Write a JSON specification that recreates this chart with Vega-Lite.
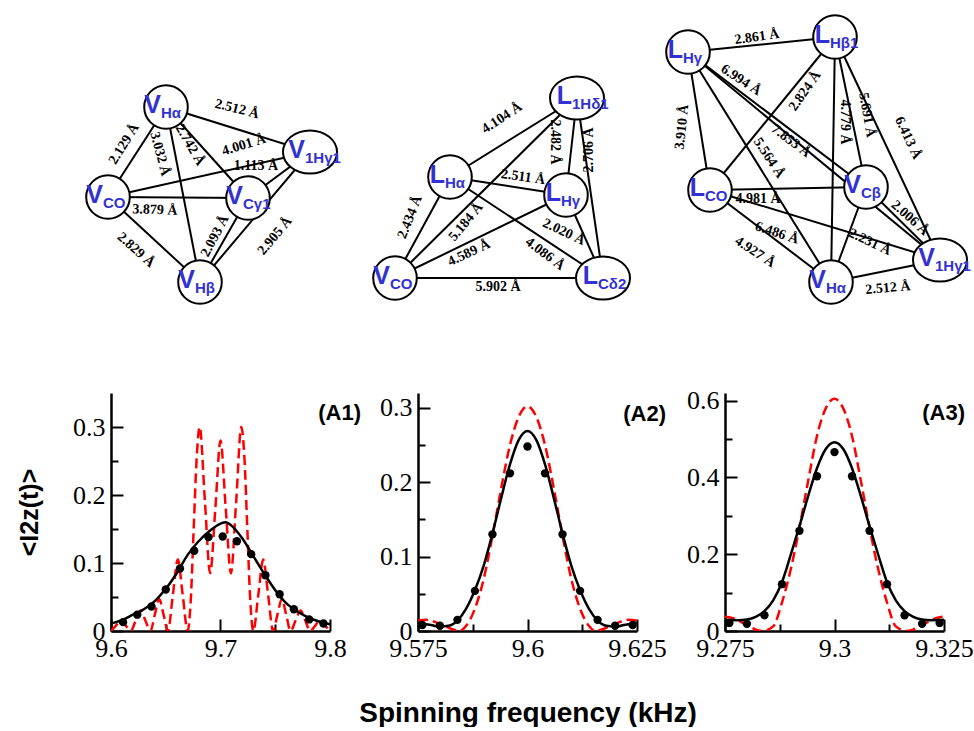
{
  "$schema": "https://vega.github.io/schema/vega-lite/v6.json",
  "background": "white",
  "padding": {"left": 17, "top": 0, "right": 0, "bottom": 0},
  "config": {
    "view": {"stroke": null},
    "axis": {"grid": false, "domainColor": "black", "domainWidth": 2.5, "tickColor": "black", "tickWidth": 2, "labelFont": "Liberation Serif", "labelFontSize": 26, "labelColor": "black", "labelFlush": false, "labelOverlap": false, "labelBound": false, "titleFont": "Liberation Sans", "titleFontWeight": "bold", "titleColor": "black"}
  },
  "datasets": {
    "nodes": [
      {"id": "d1VHa", "x": 168, "y": 107, "main": "V", "sub": "Hα"},
      {"id": "d1VCO", "x": 110, "y": 197, "main": "V", "sub": "CO"},
      {"id": "d1V1Hg1", "x": 312, "y": 152, "main": "V", "sub": "1Hγ1"},
      {"id": "d1VCg1", "x": 250, "y": 198, "main": "V", "sub": "Cγ1"},
      {"id": "d1VHb", "x": 202, "y": 282, "main": "V", "sub": "Hβ"},
      {"id": "d2L1Hd1", "x": 579, "y": 98, "main": "L", "sub": "1Hδ1"},
      {"id": "d2LHa", "x": 452, "y": 177, "main": "L", "sub": "Hα"},
      {"id": "d2LHg", "x": 568, "y": 195, "main": "L", "sub": "Hγ"},
      {"id": "d2VCO", "x": 397, "y": 278, "main": "V", "sub": "CO"},
      {"id": "d2LCd2", "x": 605, "y": 278, "main": "L", "sub": "Cδ2"},
      {"id": "d3LHg", "x": 690, "y": 52, "main": "L", "sub": "Hγ"},
      {"id": "d3LHb1", "x": 837, "y": 37, "main": "L", "sub": "Hβ1"},
      {"id": "d3LCO", "x": 712, "y": 190, "main": "L", "sub": "CO"},
      {"id": "d3VCb", "x": 868, "y": 187, "main": "V", "sub": "Cβ"},
      {"id": "d3V1Hg1", "x": 942, "y": 260, "main": "V", "sub": "1Hγ1"},
      {"id": "d3VHa", "x": 833, "y": 282, "main": "V", "sub": "Hα"}
    ],
    "edges": [
      {"a": "d1VHa", "b": "d1V1Hg1", "label": "2.512 Å", "lx": 239, "ly": 109, "angle": 14},
      {"a": "d1VHa", "b": "d1VCO", "label": "2.129 Å", "lx": 126, "ly": 144, "angle": -58},
      {"a": "d1VHa", "b": "d1VHb", "label": "3.032 Å", "lx": 162, "ly": 154, "angle": 75},
      {"a": "d1VHa", "b": "d1VCg1", "label": "2.742 Å", "lx": 192, "ly": 145, "angle": 60},
      {"a": "d1VCO", "b": "d1V1Hg1", "label": "4.001 Å", "lx": 246, "ly": 145, "angle": -17},
      {"a": "d1VCg1", "b": "d1V1Hg1", "label": "1.113 Å", "lx": 258, "ly": 166, "angle": 0},
      {"a": "d1VCO", "b": "d1VCg1", "label": "3.879 Å", "lx": 157, "ly": 210, "angle": 2},
      {"a": "d1VCO", "b": "d1VHb", "label": "2.829 Å", "lx": 138, "ly": 250, "angle": 42},
      {"a": "d1VCg1", "b": "d1VHb", "label": "2.093 Å", "lx": 217, "ly": 236, "angle": -62},
      {"a": "d1V1Hg1", "b": "d1VHb", "label": "2.905 Å", "lx": 277, "ly": 236, "angle": -50},
      {"a": "d2LHa", "b": "d2L1Hd1", "label": "4.104 Å", "lx": 504, "ly": 118, "angle": -33},
      {"a": "d2VCO", "b": "d2L1Hd1", "label": "5.184 Å", "lx": 468, "ly": 222, "angle": -50},
      {"a": "d2L1Hd1", "b": "d2LHg", "label": "2.482 Å", "lx": 557, "ly": 142, "angle": 90},
      {"a": "d2L1Hd1", "b": "d2LCd2", "label": "2.706 Å", "lx": 591, "ly": 150, "angle": -90},
      {"a": "d2LHa", "b": "d2LHg", "label": "2.511 Å", "lx": 525, "ly": 177, "angle": 8},
      {"a": "d2VCO", "b": "d2LHa", "label": "2.434 Å", "lx": 412, "ly": 217, "angle": -68},
      {"a": "d2VCO", "b": "d2LHg", "label": "4.589 Å", "lx": 471, "ly": 253, "angle": -25},
      {"a": "d2LHa", "b": "d2LCd2", "label": "4.086 Å", "lx": 547, "ly": 254, "angle": 37},
      {"a": "d2LHg", "b": "d2LCd2", "label": "2.020 Å", "lx": 566, "ly": 232, "angle": 25},
      {"a": "d2VCO", "b": "d2LCd2", "label": "5.902 Å", "lx": 500, "ly": 287, "angle": 0},
      {"a": "d3LHg", "b": "d3LHb1", "label": "2.861 Å", "lx": 759, "ly": 37, "angle": -8},
      {"a": "d3LHg", "b": "d3VCb", "label": "6.994 Å", "lx": 743, "ly": 80, "angle": 33},
      {"a": "d3LHg", "b": "d3V1Hg1", "label": "7.853 Å", "lx": 793, "ly": 141, "angle": 37},
      {"a": "d3LHg", "b": "d3VHa", "label": "5.564 Å", "lx": 771, "ly": 158, "angle": 57},
      {"a": "d3LHg", "b": "d3LCO", "label": "3.910 Å", "lx": 684, "ly": 127, "angle": -84},
      {"a": "d3LHb1", "b": "d3LCO", "label": "2.824 Å", "lx": 807, "ly": 91, "angle": -55},
      {"a": "d3LHb1", "b": "d3VHa", "label": "4.779 Å", "lx": 847, "ly": 122, "angle": 90},
      {"a": "d3LHb1", "b": "d3VCb", "label": "5.691 Å", "lx": 869, "ly": 115, "angle": 80},
      {"a": "d3LHb1", "b": "d3V1Hg1", "label": "6.413 Å", "lx": 910, "ly": 138, "angle": 65},
      {"a": "d3LCO", "b": "d3VCb", "label": "4.981 Å", "lx": 760, "ly": 199, "angle": 0},
      {"a": "d3LCO", "b": "d3V1Hg1", "label": "6.486 Å", "lx": 779, "ly": 233, "angle": 18},
      {"a": "d3LCO", "b": "d3VHa", "label": "4.927 Å", "lx": 757, "ly": 252, "angle": 33},
      {"a": "d3VCb", "b": "d3V1Hg1", "label": "2.006 Å", "lx": 912, "ly": 218, "angle": 42},
      {"a": "d3VCb", "b": "d3VHa", "label": "2.231 Å", "lx": 872, "ly": 242, "angle": 25},
      {"a": "d3VHa", "b": "d3V1Hg1", "label": "2.512 Å", "lx": 890, "ly": 288, "angle": -5}
    ],
    "a1": [
      {"s": "model1", "f": 9.600, "v": 0.000}, {"s": "model1", "f": 9.6045, "v": 0.008}, {"s": "model1", "f": 9.609, "v": 0.016}, {"s": "model1", "f": 9.6135, "v": 0.008},
      {"s": "model1", "f": 9.618, "v": 0.000}, {"s": "model1", "f": 9.6225, "v": 0.015}, {"s": "model1", "f": 9.627, "v": 0.030}, {"s": "model1", "f": 9.6315, "v": 0.015},
      {"s": "model1", "f": 9.636, "v": 0.000}, {"s": "model1", "f": 9.640, "v": 0.024}, {"s": "model1", "f": 9.644, "v": 0.047}, {"s": "model1", "f": 9.648, "v": 0.024},
      {"s": "model1", "f": 9.652, "v": 0.000}, {"s": "model1", "f": 9.6565, "v": 0.053}, {"s": "model1", "f": 9.661, "v": 0.105}, {"s": "model1", "f": 9.6655, "v": 0.053},
      {"s": "model1", "f": 9.670, "v": 0.000}, {"s": "model1", "f": 9.6728, "v": 0.044}, {"s": "model1", "f": 9.6755, "v": 0.150}, {"s": "model1", "f": 9.6783, "v": 0.256},
      {"s": "model1", "f": 9.681, "v": 0.300}, {"s": "model1", "f": 9.6858, "v": 0.190}, {"s": "model1", "f": 9.6905, "v": 0.085}, {"s": "model1", "f": 9.6953, "v": 0.180},
      {"s": "model1", "f": 9.700, "v": 0.280}, {"s": "model1", "f": 9.7048, "v": 0.180}, {"s": "model1", "f": 9.7095, "v": 0.085}, {"s": "model1", "f": 9.7143, "v": 0.190},
      {"s": "model1", "f": 9.719, "v": 0.300}, {"s": "model1", "f": 9.7218, "v": 0.256}, {"s": "model1", "f": 9.7245, "v": 0.150}, {"s": "model1", "f": 9.7272, "v": 0.044},
      {"s": "model1", "f": 9.730, "v": 0.000}, {"s": "model1", "f": 9.7345, "v": 0.053}, {"s": "model1", "f": 9.739, "v": 0.105}, {"s": "model1", "f": 9.7435, "v": 0.053},
      {"s": "model1", "f": 9.748, "v": 0.000}, {"s": "model1", "f": 9.752, "v": 0.024}, {"s": "model1", "f": 9.756, "v": 0.047}, {"s": "model1", "f": 9.760, "v": 0.024},
      {"s": "model1", "f": 9.764, "v": 0.000}, {"s": "model1", "f": 9.7685, "v": 0.015}, {"s": "model1", "f": 9.773, "v": 0.030}, {"s": "model1", "f": 9.7775, "v": 0.015},
      {"s": "model1", "f": 9.782, "v": 0.000}, {"s": "model1", "f": 9.7865, "v": 0.008}, {"s": "model1", "f": 9.791, "v": 0.016}, {"s": "model1", "f": 9.7955, "v": 0.008},
      {"s": "model1", "f": 9.800, "v": 0.000},
      {"s": "model2", "f": 9.600, "v": 0.011}, {"s": "model2", "f": 9.610, "v": 0.016}, {"s": "model2", "f": 9.620, "v": 0.024}, {"s": "model2", "f": 9.630, "v": 0.032},
      {"s": "model2", "f": 9.640, "v": 0.044}, {"s": "model2", "f": 9.650, "v": 0.062}, {"s": "model2", "f": 9.660, "v": 0.085}, {"s": "model2", "f": 9.670, "v": 0.112},
      {"s": "model2", "f": 9.680, "v": 0.132}, {"s": "model2", "f": 9.690, "v": 0.147}, {"s": "model2", "f": 9.700, "v": 0.158}, {"s": "model2", "f": 9.705, "v": 0.160},
      {"s": "model2", "f": 9.710, "v": 0.155}, {"s": "model2", "f": 9.720, "v": 0.136}, {"s": "model2", "f": 9.730, "v": 0.110}, {"s": "model2", "f": 9.740, "v": 0.084},
      {"s": "model2", "f": 9.750, "v": 0.060}, {"s": "model2", "f": 9.760, "v": 0.041}, {"s": "model2", "f": 9.770, "v": 0.029}, {"s": "model2", "f": 9.780, "v": 0.020},
      {"s": "model2", "f": 9.790, "v": 0.014}, {"s": "model2", "f": 9.800, "v": 0.010},
      {"s": "data", "f": 9.611, "v": 0.013}, {"s": "data", "f": 9.624, "v": 0.024}, {"s": "data", "f": 9.637, "v": 0.036}, {"s": "data", "f": 9.650, "v": 0.061},
      {"s": "data", "f": 9.663, "v": 0.092}, {"s": "data", "f": 9.676, "v": 0.118}, {"s": "data", "f": 9.689, "v": 0.138}, {"s": "data", "f": 9.702, "v": 0.139},
      {"s": "data", "f": 9.715, "v": 0.132}, {"s": "data", "f": 9.728, "v": 0.113}, {"s": "data", "f": 9.741, "v": 0.082}, {"s": "data", "f": 9.754, "v": 0.054},
      {"s": "data", "f": 9.767, "v": 0.032}, {"s": "data", "f": 9.781, "v": 0.017}, {"s": "data", "f": 9.794, "v": 0.011}
    ],
    "a2": [
      {"s": "model1", "f": 9.575, "v": 0.014}, {"s": "model1", "f": 9.577, "v": 0.015}, {"s": "model1", "f": 9.579, "v": 0.012}, {"s": "model1", "f": 9.581, "v": 0.007},
      {"s": "model1", "f": 9.583, "v": 0.002}, {"s": "model1", "f": 9.5845, "v": 0.000}, {"s": "model1", "f": 9.586, "v": 0.007}, {"s": "model1", "f": 9.588, "v": 0.030},
      {"s": "model1", "f": 9.590, "v": 0.070}, {"s": "model1", "f": 9.592, "v": 0.128}, {"s": "model1", "f": 9.594, "v": 0.192}, {"s": "model1", "f": 9.596, "v": 0.250},
      {"s": "model1", "f": 9.598, "v": 0.288}, {"s": "model1", "f": 9.600, "v": 0.302}, {"s": "model1", "f": 9.602, "v": 0.288}, {"s": "model1", "f": 9.604, "v": 0.250},
      {"s": "model1", "f": 9.606, "v": 0.192}, {"s": "model1", "f": 9.608, "v": 0.128}, {"s": "model1", "f": 9.610, "v": 0.070}, {"s": "model1", "f": 9.612, "v": 0.030},
      {"s": "model1", "f": 9.614, "v": 0.007}, {"s": "model1", "f": 9.6155, "v": 0.000}, {"s": "model1", "f": 9.617, "v": 0.002}, {"s": "model1", "f": 9.619, "v": 0.007},
      {"s": "model1", "f": 9.621, "v": 0.012}, {"s": "model1", "f": 9.623, "v": 0.015}, {"s": "model1", "f": 9.625, "v": 0.014},
      {"s": "model2", "f": 9.575, "v": 0.011}, {"s": "model2", "f": 9.578, "v": 0.008}, {"s": "model2", "f": 9.580, "v": 0.006}, {"s": "model2", "f": 9.582, "v": 0.007},
      {"s": "model2", "f": 9.584, "v": 0.014}, {"s": "model2", "f": 9.586, "v": 0.030}, {"s": "model2", "f": 9.588, "v": 0.055}, {"s": "model2", "f": 9.590, "v": 0.088},
      {"s": "model2", "f": 9.592, "v": 0.131}, {"s": "model2", "f": 9.594, "v": 0.179}, {"s": "model2", "f": 9.596, "v": 0.224}, {"s": "model2", "f": 9.598, "v": 0.257},
      {"s": "model2", "f": 9.600, "v": 0.269}, {"s": "model2", "f": 9.602, "v": 0.257}, {"s": "model2", "f": 9.604, "v": 0.224}, {"s": "model2", "f": 9.606, "v": 0.179},
      {"s": "model2", "f": 9.608, "v": 0.131}, {"s": "model2", "f": 9.610, "v": 0.088}, {"s": "model2", "f": 9.612, "v": 0.055}, {"s": "model2", "f": 9.614, "v": 0.030},
      {"s": "model2", "f": 9.616, "v": 0.014}, {"s": "model2", "f": 9.618, "v": 0.007}, {"s": "model2", "f": 9.620, "v": 0.006}, {"s": "model2", "f": 9.622, "v": 0.008},
      {"s": "model2", "f": 9.625, "v": 0.011},
      {"s": "data", "f": 9.576, "v": 0.008}, {"s": "data", "f": 9.580, "v": 0.007}, {"s": "data", "f": 9.584, "v": 0.015}, {"s": "data", "f": 9.588, "v": 0.054},
      {"s": "data", "f": 9.592, "v": 0.130}, {"s": "data", "f": 9.596, "v": 0.212}, {"s": "data", "f": 9.600, "v": 0.248}, {"s": "data", "f": 9.604, "v": 0.212},
      {"s": "data", "f": 9.608, "v": 0.130}, {"s": "data", "f": 9.612, "v": 0.054}, {"s": "data", "f": 9.616, "v": 0.015}, {"s": "data", "f": 9.620, "v": 0.007},
      {"s": "data", "f": 9.624, "v": 0.008}
    ],
    "a3": [
      {"s": "model1", "f": 9.275, "v": 0.037}, {"s": "model1", "f": 9.276, "v": 0.036}, {"s": "model1", "f": 9.278, "v": 0.028}, {"s": "model1", "f": 9.280, "v": 0.015},
      {"s": "model1", "f": 9.282, "v": 0.004}, {"s": "model1", "f": 9.2835, "v": 0.000}, {"s": "model1", "f": 9.286, "v": 0.012}, {"s": "model1", "f": 9.288, "v": 0.074},
      {"s": "model1", "f": 9.290, "v": 0.160}, {"s": "model1", "f": 9.292, "v": 0.270}, {"s": "model1", "f": 9.294, "v": 0.392}, {"s": "model1", "f": 9.296, "v": 0.508},
      {"s": "model1", "f": 9.298, "v": 0.580}, {"s": "model1", "f": 9.300, "v": 0.605}, {"s": "model1", "f": 9.302, "v": 0.580}, {"s": "model1", "f": 9.304, "v": 0.508},
      {"s": "model1", "f": 9.306, "v": 0.392}, {"s": "model1", "f": 9.308, "v": 0.270}, {"s": "model1", "f": 9.310, "v": 0.160}, {"s": "model1", "f": 9.312, "v": 0.074},
      {"s": "model1", "f": 9.314, "v": 0.012}, {"s": "model1", "f": 9.3165, "v": 0.000}, {"s": "model1", "f": 9.318, "v": 0.004}, {"s": "model1", "f": 9.320, "v": 0.015},
      {"s": "model1", "f": 9.322, "v": 0.028}, {"s": "model1", "f": 9.324, "v": 0.036}, {"s": "model1", "f": 9.325, "v": 0.037},
      {"s": "model2", "f": 9.275, "v": 0.029}, {"s": "model2", "f": 9.278, "v": 0.028}, {"s": "model2", "f": 9.280, "v": 0.030}, {"s": "model2", "f": 9.282, "v": 0.037},
      {"s": "model2", "f": 9.284, "v": 0.052}, {"s": "model2", "f": 9.286, "v": 0.080}, {"s": "model2", "f": 9.288, "v": 0.127}, {"s": "model2", "f": 9.290, "v": 0.198},
      {"s": "model2", "f": 9.292, "v": 0.273}, {"s": "model2", "f": 9.294, "v": 0.352}, {"s": "model2", "f": 9.296, "v": 0.424}, {"s": "model2", "f": 9.298, "v": 0.474},
      {"s": "model2", "f": 9.300, "v": 0.492}, {"s": "model2", "f": 9.302, "v": 0.474}, {"s": "model2", "f": 9.304, "v": 0.424}, {"s": "model2", "f": 9.306, "v": 0.352},
      {"s": "model2", "f": 9.308, "v": 0.273}, {"s": "model2", "f": 9.310, "v": 0.198}, {"s": "model2", "f": 9.312, "v": 0.127}, {"s": "model2", "f": 9.314, "v": 0.080},
      {"s": "model2", "f": 9.316, "v": 0.052}, {"s": "model2", "f": 9.318, "v": 0.037}, {"s": "model2", "f": 9.320, "v": 0.030}, {"s": "model2", "f": 9.322, "v": 0.028},
      {"s": "model2", "f": 9.325, "v": 0.029},
      {"s": "data", "f": 9.276, "v": 0.021}, {"s": "data", "f": 9.280, "v": 0.019}, {"s": "data", "f": 9.284, "v": 0.041}, {"s": "data", "f": 9.288, "v": 0.122},
      {"s": "data", "f": 9.292, "v": 0.261}, {"s": "data", "f": 9.296, "v": 0.403}, {"s": "data", "f": 9.300, "v": 0.466}, {"s": "data", "f": 9.304, "v": 0.403},
      {"s": "data", "f": 9.308, "v": 0.261}, {"s": "data", "f": 9.312, "v": 0.122}, {"s": "data", "f": 9.316, "v": 0.041}, {"s": "data", "f": 9.320, "v": 0.019},
      {"s": "data", "f": 9.324, "v": 0.021}
    ]
  },
  "spacing": 53,
  "bounds": "flush",
  "vconcat": [
    {
      "width": 850,
      "height": 340,
      "layer": [
        {
          "data": {"name": "edges"},
          "transform": [
            {"lookup": "a", "from": {"data": {"name": "nodes"}, "key": "id", "fields": ["x", "y"]}, "as": ["xa", "ya"]},
            {"lookup": "b", "from": {"data": {"name": "nodes"}, "key": "id", "fields": ["x", "y"]}, "as": ["xb", "yb"]}
          ],
          "mark": {"type": "rule", "color": "black", "strokeWidth": 2},
          "encoding": {
            "x": {"field": "xa", "type": "quantitative", "scale": {"domain": [113, 963], "nice": false, "zero": false}, "axis": null},
            "y": {"field": "ya", "type": "quantitative", "scale": {"domain": [0, 340], "reverse": true, "nice": false, "zero": false}, "axis": null},
            "x2": {"field": "xb"},
            "y2": {"field": "yb"}
          }
        },
        {
          "data": {"name": "edges"},
          "mark": {"type": "text", "font": "Liberation Serif", "fontWeight": "bold", "fontSize": 14, "color": "black", "align": "center", "baseline": "middle"},
          "encoding": {
            "x": {"field": "lx", "type": "quantitative", "scale": {"domain": [113, 963], "nice": false, "zero": false}, "axis": null},
            "y": {"field": "ly", "type": "quantitative", "scale": {"domain": [0, 340], "reverse": true, "nice": false, "zero": false}, "axis": null},
            "text": {"field": "label"},
            "angle": {"field": "angle", "type": "quantitative", "scale": null}
          }
        },
        {
          "data": {"name": "nodes"},
          "transform": [{"filter": "indexof(['d1V1Hg1', 'd2L1Hd1', 'd2LCd2', 'd3V1Hg1'], datum.id) < 0"}],
          "mark": {"type": "point", "shape": "circle", "filled": true, "fill": "white", "stroke": "black", "strokeWidth": 2, "opacity": 1, "size": 1900},
          "encoding": {
            "x": {"field": "x", "type": "quantitative", "scale": {"domain": [113, 963], "nice": false, "zero": false}, "axis": null},
            "y": {"field": "y", "type": "quantitative", "scale": {"domain": [0, 340], "reverse": true, "nice": false, "zero": false}, "axis": null}
          }
        },
        {
          "data": {"name": "nodes"},
          "transform": [{"filter": "indexof(['d1V1Hg1', 'd2L1Hd1', 'd2LCd2', 'd3V1Hg1'], datum.id) >= 0"}],
          "mark": {"type": "point", "shape": "M -1 0 A 1 0.8 0 1 0 1 0 A 1 0.8 0 1 0 -1 0 Z", "filled": true, "fill": "white", "stroke": "black", "strokeWidth": 2, "opacity": 1, "size": 2916},
          "encoding": {
            "x": {"field": "x", "type": "quantitative", "scale": {"domain": [113, 963], "nice": false, "zero": false}, "axis": null},
            "y": {"field": "y", "type": "quantitative", "scale": {"domain": [0, 340], "reverse": true, "nice": false, "zero": false}, "axis": null}
          }
        },
        {
          "data": {"name": "nodes"},
          "mark": {"type": "text", "font": "Liberation Sans", "fontWeight": "bold", "fontSize": 25, "color": "#3232d2", "align": "right", "baseline": "middle", "dx": -5, "dy": -2},
          "encoding": {
            "x": {"field": "x", "type": "quantitative", "scale": {"domain": [113, 963], "nice": false, "zero": false}, "axis": null},
            "y": {"field": "y", "type": "quantitative", "scale": {"domain": [0, 340], "reverse": true, "nice": false, "zero": false}, "axis": null},
            "text": {"field": "main"}
          }
        },
        {
          "data": {"name": "nodes"},
          "mark": {"type": "text", "font": "Liberation Sans", "fontWeight": "bold", "fontSize": 15, "color": "#3232d2", "align": "left", "baseline": "middle", "dx": -5, "dy": 6},
          "encoding": {
            "x": {"field": "x", "type": "quantitative", "scale": {"domain": [113, 963], "nice": false, "zero": false}, "axis": null},
            "y": {"field": "y", "type": "quantitative", "scale": {"domain": [0, 340], "reverse": true, "nice": false, "zero": false}, "axis": null},
            "text": {"field": "sub"}
          }
        }
      ]
    },
    {
      "spacing": 88,
      "bounds": "flush",
      "hconcat": [
        {
          "width": 219,
          "height": 238,
          "data": {"name": "a1"},
          "resolve": {"axis": {"x": "independent", "y": "independent"}},
          "layer": [
            {
              "transform": [{"filter": "datum.s == 'model1'"}],
              "mark": {"type": "line", "color": "#ff0000", "strokeWidth": 2.5, "strokeDash": [10, 5], "interpolate": "monotone", "clip": true},
              "encoding": {
                "x": {"field": "f", "type": "quantitative", "scale": {"domain": [9.6, 9.8], "nice": false, "zero": false}, "axis": {"orient": "bottom", "values": [9.6, 9.7, 9.8], "labelExpr": "format(datum.value, '.4~f')", "labelFont": "Liberation Serif", "tickSize": -12, "labelPadding": 16, "title": null}},
                "y": {"field": "v", "type": "quantitative", "scale": {"domain": [0, 0.35], "nice": false}, "axis": {"orient": "left", "values": [0, 0.1, 0.2, 0.3], "labelExpr": "format(datum.value, '.2~f')", "labelFont": "Liberation Serif", "tickSize": -12, "labelPadding": 18, "title": "<I2z(t)>", "titleFont": "Liberation Sans", "titleFontSize": 25, "titlePadding": 30}}
              }
            },
            {
              "transform": [{"filter": "datum.s == 'model2'"}],
              "mark": {"type": "line", "color": "black", "strokeWidth": 2.5, "interpolate": "monotone"},
              "encoding": {
                "x": {"field": "f", "type": "quantitative", "scale": {"domain": [9.6, 9.8], "nice": false, "zero": false}, "axis": {"orient": "bottom", "values": [9.65, 9.75], "tickSize": -7, "labels": false, "domain": false, "title": null}},
                "y": {"field": "v", "type": "quantitative", "scale": {"domain": [0, 0.35], "nice": false}, "axis": {"orient": "left", "values": [0.05, 0.15, 0.25], "tickSize": -7, "labels": false, "domain": false, "title": null}}
              }
            },
            {
              "transform": [{"filter": "datum.s == 'data'"}],
              "mark": {"type": "point", "shape": "circle", "filled": true, "color": "black", "opacity": 1, "size": 70},
              "encoding": {
                "x": {"field": "f", "type": "quantitative", "scale": {"domain": [9.6, 9.8], "nice": false, "zero": false}, "axis": null},
                "y": {"field": "v", "type": "quantitative", "scale": {"domain": [0, 0.35], "nice": false}, "axis": null}
              }
            },
            {
              "data": {"values": [{"name": "(A1)"}]},
              "mark": {"type": "text", "font": "Liberation Sans", "fontWeight": "bold", "fontSize": 22, "color": "black", "align": "right", "baseline": "middle", "dx": 31},
              "encoding": {
                "x": {"datum": 9.8, "type": "quantitative", "axis": null},
                "y": {"datum": 0.32, "type": "quantitative", "axis": null},
                "text": {"field": "name"}
              }
            }
          ]
        },
        {
          "width": 219,
          "height": 238,
          "data": {"name": "a2"},
          "resolve": {"axis": {"x": "independent", "y": "independent"}},
          "layer": [
            {
              "transform": [{"filter": "datum.s == 'model1'"}],
              "mark": {"type": "line", "color": "#ff0000", "strokeWidth": 2.5, "strokeDash": [10, 5], "interpolate": "monotone", "clip": true},
              "encoding": {
                "x": {"field": "f", "type": "quantitative", "scale": {"domain": [9.575, 9.625], "nice": false, "zero": false}, "axis": {"orient": "bottom", "values": [9.575, 9.6, 9.625], "labelExpr": "format(datum.value, '.4~f')", "labelFont": "Liberation Serif", "tickSize": -12, "labelPadding": 16, "title": "Spinning frequency (kHz)", "titleFont": "Liberation Sans", "titleFontSize": 28, "titlePadding": 38}},
                "y": {"field": "v", "type": "quantitative", "scale": {"domain": [0, 0.32], "nice": false}, "axis": {"orient": "left", "values": [0, 0.1, 0.2, 0.3], "labelExpr": "format(datum.value, '.2~f')", "labelFont": "Liberation Serif", "tickSize": -12, "labelPadding": 18, "title": null}}
              }
            },
            {
              "transform": [{"filter": "datum.s == 'model2'"}],
              "mark": {"type": "line", "color": "black", "strokeWidth": 2.5, "interpolate": "monotone"},
              "encoding": {
                "x": {"field": "f", "type": "quantitative", "scale": {"domain": [9.575, 9.625], "nice": false, "zero": false}, "axis": {"orient": "bottom", "values": [9.5875, 9.6125], "tickSize": -7, "labels": false, "domain": false, "title": null}},
                "y": {"field": "v", "type": "quantitative", "scale": {"domain": [0, 0.32], "nice": false}, "axis": {"orient": "left", "values": [0.05, 0.15, 0.25], "tickSize": -7, "labels": false, "domain": false, "title": null}}
              }
            },
            {
              "transform": [{"filter": "datum.s == 'data'"}],
              "mark": {"type": "point", "shape": "circle", "filled": true, "color": "black", "opacity": 1, "size": 70},
              "encoding": {
                "x": {"field": "f", "type": "quantitative", "scale": {"domain": [9.575, 9.625], "nice": false, "zero": false}, "axis": null},
                "y": {"field": "v", "type": "quantitative", "scale": {"domain": [0, 0.32], "nice": false}, "axis": null}
              }
            },
            {
              "data": {"values": [{"name": "(A2)"}]},
              "mark": {"type": "text", "font": "Liberation Sans", "fontWeight": "bold", "fontSize": 22, "color": "black", "align": "right", "baseline": "middle", "dx": 29},
              "encoding": {
                "x": {"datum": 9.625, "type": "quantitative", "axis": null},
                "y": {"datum": 0.292, "type": "quantitative", "axis": null},
                "text": {"field": "name"}
              }
            }
          ]
        },
        {
          "width": 219,
          "height": 238,
          "data": {"name": "a3"},
          "resolve": {"axis": {"x": "independent", "y": "independent"}},
          "layer": [
            {
              "transform": [{"filter": "datum.s == 'model1'"}],
              "mark": {"type": "line", "color": "#ff0000", "strokeWidth": 2.5, "strokeDash": [10, 5], "interpolate": "monotone", "clip": true},
              "encoding": {
                "x": {"field": "f", "type": "quantitative", "scale": {"domain": [9.275, 9.325], "nice": false, "zero": false}, "axis": {"orient": "bottom", "values": [9.275, 9.3, 9.325], "labelExpr": "format(datum.value, '.4~f')", "labelFont": "Liberation Serif", "tickSize": -12, "labelPadding": 16, "title": null}},
                "y": {"field": "v", "type": "quantitative", "scale": {"domain": [0, 0.62], "nice": false}, "axis": {"orient": "left", "values": [0, 0.2, 0.4, 0.6], "labelExpr": "format(datum.value, '.2~f')", "labelFont": "Liberation Serif", "tickSize": -12, "labelPadding": 18, "title": null}}
              }
            },
            {
              "transform": [{"filter": "datum.s == 'model2'"}],
              "mark": {"type": "line", "color": "black", "strokeWidth": 2.5, "interpolate": "monotone"},
              "encoding": {
                "x": {"field": "f", "type": "quantitative", "scale": {"domain": [9.275, 9.325], "nice": false, "zero": false}, "axis": {"orient": "bottom", "values": [9.2875, 9.3125], "tickSize": -7, "labels": false, "domain": false, "title": null}},
                "y": {"field": "v", "type": "quantitative", "scale": {"domain": [0, 0.62], "nice": false}, "axis": {"orient": "left", "values": [0.1, 0.3, 0.5], "tickSize": -7, "labels": false, "domain": false, "title": null}}
              }
            },
            {
              "transform": [{"filter": "datum.s == 'data'"}],
              "mark": {"type": "point", "shape": "circle", "filled": true, "color": "black", "opacity": 1, "size": 70},
              "encoding": {
                "x": {"field": "f", "type": "quantitative", "scale": {"domain": [9.275, 9.325], "nice": false, "zero": false}, "axis": null},
                "y": {"field": "v", "type": "quantitative", "scale": {"domain": [0, 0.62], "nice": false}, "axis": null}
              }
            },
            {
              "data": {"values": [{"name": "(A3)"}]},
              "mark": {"type": "text", "font": "Liberation Sans", "fontWeight": "bold", "fontSize": 22, "color": "black", "align": "right", "baseline": "middle", "dx": 21},
              "encoding": {
                "x": {"datum": 9.325, "type": "quantitative", "axis": null},
                "y": {"datum": 0.569, "type": "quantitative", "axis": null},
                "text": {"field": "name"}
              }
            }
          ]
        }
      ]
    }
  ]
}
